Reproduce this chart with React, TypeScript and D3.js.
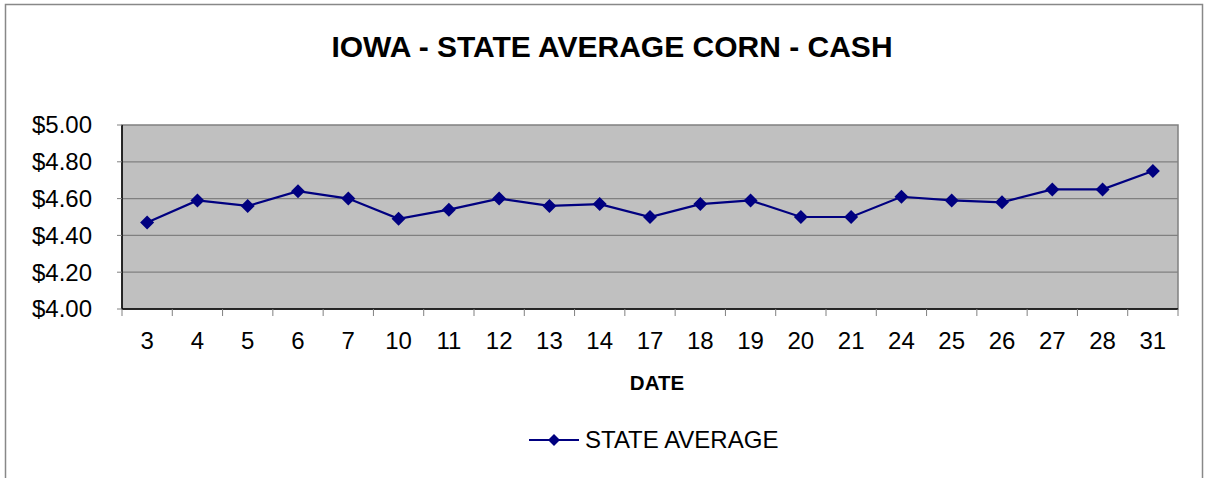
import * as d3 from "d3";

const dates = ["3", "4", "5", "6", "7", "10", "11", "12", "13", "14", "17", "18", "19", "20", "21", "24", "25", "26", "27", "28", "31"];
const stateAverage = [4.47, 4.59, 4.56, 4.64, 4.6, 4.49, 4.54, 4.6, 4.56, 4.57, 4.5, 4.57, 4.59, 4.5, 4.5, 4.61, 4.59, 4.58, 4.65, 4.65, 4.75];
const yTicks = [4.0, 4.2, 4.4, 4.6, 4.8, 5.0];

const W = 1206;
const H = 478;
const plot = { left: 122, top: 125, right: 1178, bottom: 309 };
const font = "Arial, 'Liberation Sans', sans-serif";
const navy = "#000080";

function diamond(cx: number, cy: number, r: number) {
  return `M${cx},${cy - r}L${cx + r},${cy}L${cx},${cy + r}L${cx - r},${cy}Z`;
}

export default function App() {
  const x = d3.scaleBand().domain(dates).range([plot.left, plot.right]);
  const y = d3.scaleLinear().domain([4, 5]).range([plot.bottom, plot.top]);
  const cx = (d: string) => x(d)! + x.bandwidth() / 2;

  const line = d3
    .line<number>()
    .x((_, i) => cx(dates[i]))
    .y((v) => y(v));

  const fmt = (v: number) => "$" + v.toFixed(2);

  return (
    <svg width={W} height={H} style={{ position: "absolute", left: 0, top: 0 }} fontFamily={font}>
      <rect x={0} y={0} width={W} height={H} fill="#fff" />
      {/* outer chart border */}
      <rect x={5.5} y={4.5} width={1197} height={H + 10} fill="none" stroke="#888" strokeWidth={1.5} />

      <text x={612} y={57} textAnchor="middle" fontSize={30} fontWeight="bold" fill="#000">
        IOWA - STATE AVERAGE CORN - CASH
      </text>

      {/* plot area */}
      <rect x={plot.left} y={plot.top} width={plot.right - plot.left} height={plot.bottom - plot.top} fill="#c0c0c0" stroke="#808080" strokeWidth={1.5} />
      {yTicks.slice(1, -1).map((t) => (
        <line key={t} x1={plot.left} x2={plot.right} y1={y(t)} y2={y(t)} stroke="#808080" strokeWidth={1.2} />
      ))}
      {/* axes */}
      <line x1={plot.left} x2={plot.left} y1={plot.top} y2={plot.bottom} stroke="#000" strokeWidth={1.5} />
      <line x1={plot.left} x2={plot.right} y1={plot.bottom} y2={plot.bottom} stroke="#000" strokeWidth={1.5} />

      {yTicks.map((t) => (
        <g key={t}>
          <line x1={plot.left - 5} x2={plot.left} y1={y(t)} y2={y(t)} stroke="#808080" />
          <text x={92} y={y(t)} dy="0.35em" textAnchor="end" fontSize={24} fill="#000">
            {fmt(t)}
          </text>
        </g>
      ))}

      {dates.map((d) => (
        <line key={"t" + d} x1={x(d)!} x2={x(d)!} y1={plot.bottom} y2={plot.bottom + 7} stroke="#808080" />
      ))}
      <line x1={plot.right} x2={plot.right} y1={plot.bottom} y2={plot.bottom + 7} stroke="#808080" />
      {dates.map((d) => (
        <text key={"l" + d} x={cx(d)} y={349} textAnchor="middle" fontSize={24} fill="#000">
          {d}
        </text>
      ))}

      <text x={657} y={390} textAnchor="middle" fontSize={20.5} fontWeight="bold" fill="#000">
        DATE
      </text>

      <path d={line(stateAverage) ?? ""} fill="none" stroke={navy} strokeWidth={2.2} />
      {stateAverage.map((v, i) => (
        <path key={i} d={diamond(cx(dates[i]), y(v), 7)} fill={navy} />
      ))}

      {/* legend */}
      <line x1={529} x2={579} y1={440} y2={440} stroke={navy} strokeWidth={2} />
      <path d={diamond(554, 440, 6)} fill={navy} />
      <text x={585} y={440} dy="0.35em" fontSize={24} fill="#000">
        STATE AVERAGE
      </text>
    </svg>
  );
}
